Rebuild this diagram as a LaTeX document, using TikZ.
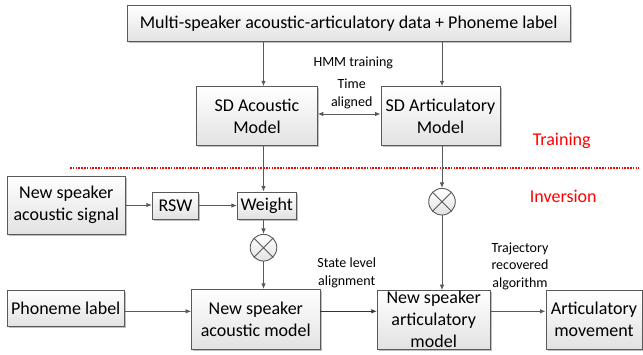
\documentclass[tikz,border=0pt]{standalone}
\usepackage{fontspec}
\setmainfont{Carlito}
\usetikzlibrary{arrows.meta,shadows,calc}
\definecolor{linegray}{HTML}{595959}
\definecolor{boxbot}{HTML}{E2E2E2}
\tikzset{
  box/.style={draw=linegray, line width=0.9pt, top color=white, bottom color=boxbot,
    drop shadow={shadow xshift=1.6pt, shadow yshift=-1.6pt, opacity=0.25, fill=black},
    inner sep=0pt, align=center, font=\fontsize{18}{22}\selectfont},
  mult/.style={circle, draw=linegray, line width=0.9pt, top color=white, bottom color=boxbot,
    minimum size=26.6pt, inner sep=0pt},
  arr/.style={draw=linegray, line width=0.9pt, -{Latex[length=5.5pt,width=4.5pt]}},
  small/.style={align=center, inner sep=0pt, font=\fontsize{14}{17.5}\selectfont},
  redlab/.style={inner sep=0pt, text=red, font=\fontsize{18}{22}\selectfont},
}
\begin{document}
\begin{tikzpicture}[x=1pt,y=-1pt]
\useasboundingbox[fill=white] (0,0) rectangle (643,354);
% column / row helper coordinates
\coordinate (colA) at (263.5,0);
\coordinate (colB) at (442,0);
\coordinate (rowT) at (0,114);
\coordinate (rowB) at (0,311.3);
% nodes
\node[box, minimum width=442.7pt, minimum height=36.7pt] (top) at (348.7,23.3) {Multi-speaker acoustic-articulatory data + Phoneme label};
\node[box, minimum width=120.6pt, minimum height=59pt] (sdac) at (257,116.2) {SD Acoustic\\Model};
\node[box, minimum width=119pt, minimum height=59pt] (sdar) at (440.5,116.2) {SD Articulatory\\Model};
\node[box, minimum width=118pt, minimum height=58pt] (nsas) at (66.3,205) {New speaker\\acoustic signal};
\node[box, minimum width=46.4pt, minimum height=27pt] (rsw) at (175.5,205.5) {RSW};
\node[box, minimum width=58.7pt, minimum height=27pt] (weight) at (266.7,205.5) {Weight};
\node[box, minimum width=116.7pt, minimum height=36.4pt] (phon) at (65.7,308.5) {Phoneme label};
\node[box, minimum width=128.3pt, minimum height=59.7pt] (nsam) at (255.8,319.2) {New speaker\\acoustic model};
\node[box, minimum width=112.7pt, minimum height=58.3pt] (nsarm) at (433.7,319.8) {New speaker\\articulatory\\model};
\node[box, minimum width=96pt, minimum height=59pt] (am) at (594,319.5) {Articulatory\\movement};
\node[mult] (c1) at (263.5,247.7) {};
\node[mult] (c2) at (442,201.7) {};
\foreach \c in {c1,c2}{
  \draw[linegray, line width=0.9pt] (\c.45) -- (\c.225) (\c.135) -- (\c.-45);
}
% labels
\node[small] (hmm) at (353.3,63.3) {HMM training};
\node[small] (time) at (351.7,94) {Time\\aligned};
\node[small] (sla) at (346.7,272.7) {State level\\alignment};
\node[small] (tra) at (520,266) {Trajectory\\recovered\\algorithm};
\node[redlab] (train) at (561.7,140.7) {Training};
\node[redlab] (inv) at (563.3,196) {Inversion};
% red divider
\coordinate (dl) at (70,168);
\coordinate (dr) at (639,168);
\draw[red, line width=1.1pt, dash pattern=on 1.6pt off 1.2pt] (dl) -- (dr);
% connectors
\draw[arr] (top.south -| colA) -- (sdac.north -| colA);
\draw[arr] (top.south -| colB) -- (sdar.north -| colB);
\draw[draw=linegray, line width=0.9pt, {Latex[length=5.5pt,width=4.5pt]}-{Latex[length=5.5pt,width=4.5pt]}] (sdac.east |- rowT) -- (sdar.west |- rowT);
\draw[arr] (sdac.south -| colA) -- (weight.north -| colA);
\draw[arr] (sdar.south -| colB) -- (c2.north);
\draw[arr] (nsas.east) -- (nsas.east -| rsw.west);
\draw[arr] (rsw.east) -- (weight.west);
\draw[arr] (weight.south -| c1) -- (c1.north);
\draw[arr] (c1.south) -- (nsam.north -| c1);
\draw[arr] (c2.south) -- (nsarm.north -| c2);
\draw[arr] (phon.east |- rowB) -- (nsam.west |- rowB);
\draw[arr, draw=black!80, line width=1.4pt] (nsam.east |- rowB) -- (nsarm.west |- rowB);
\draw[arr] (nsarm.east |- rowB) -- (am.west |- rowB);
\end{tikzpicture}
\end{document}
